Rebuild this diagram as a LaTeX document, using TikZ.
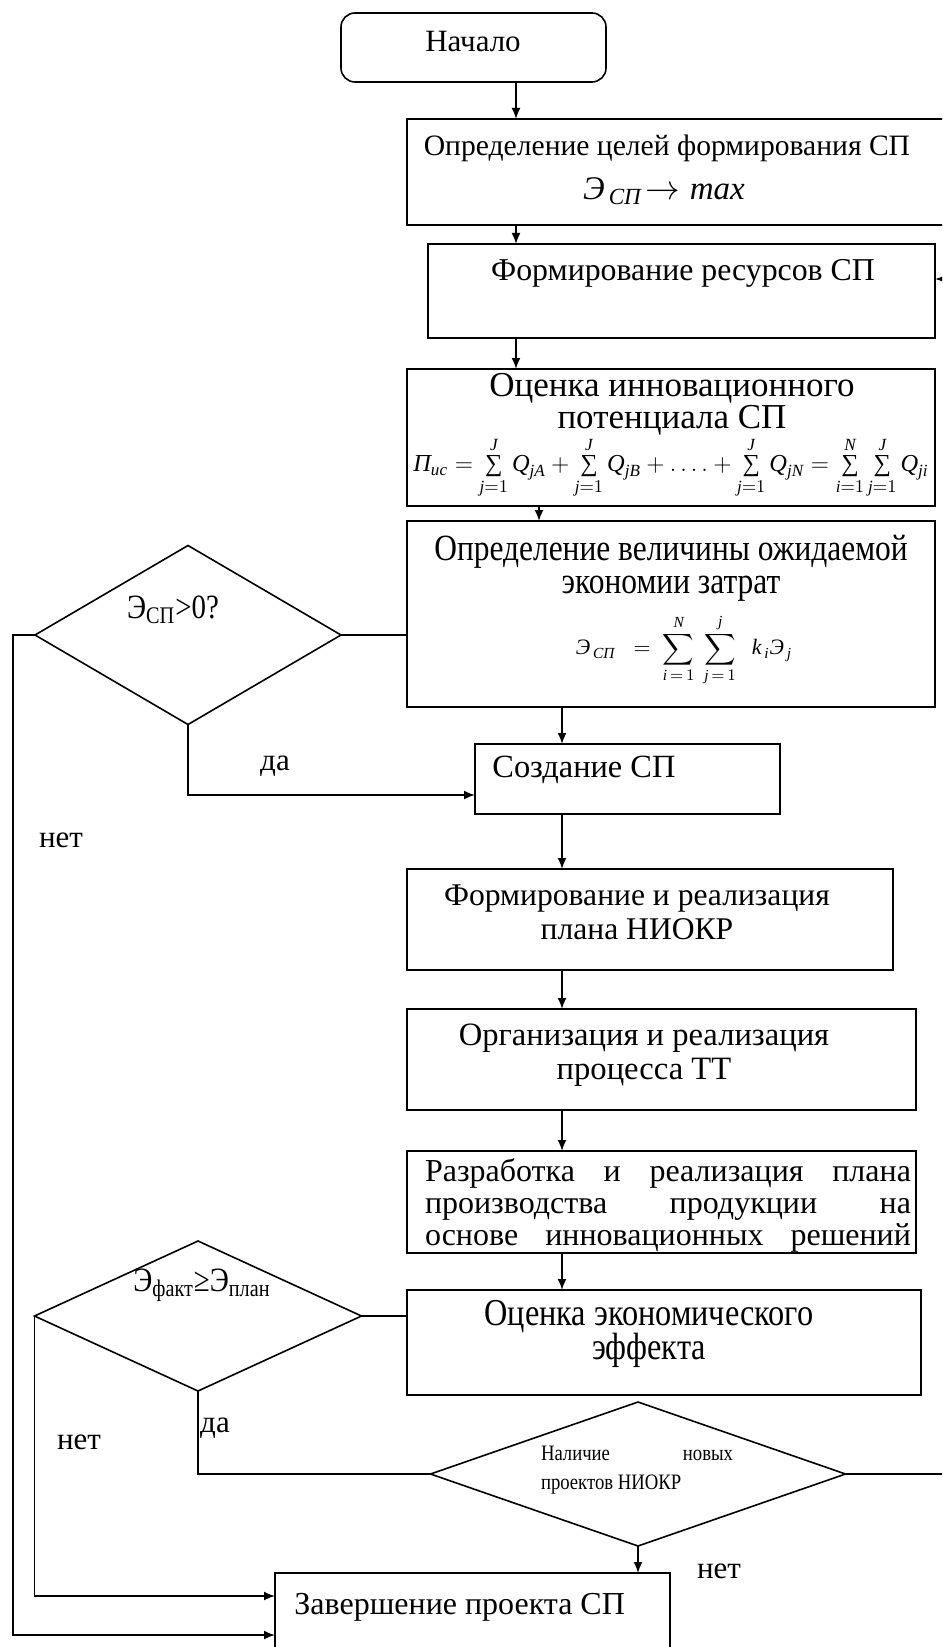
\documentclass[tikz,border=0pt]{standalone}
\usepackage{amsmath}
\usepackage{fontspec}
\setmainfont{Liberation Serif}
\newfontfamily\narrowfont[FakeStretch=0.85]{Liberation Serif}
\usetikzlibrary{shapes.geometric,fit,arrows.meta}
\newcommand\txi[1]{\text{\itshape #1}}
\newcommand\tsum{\mathop{\text{\upshape ∑}}\limits}
\begin{document}
\begin{tikzpicture}[x=0.5pt,y=-0.5pt,
  box/.style={draw,line width=0.8pt,inner sep=0pt,outer sep=0pt},
  startbox/.style={box,rounded corners=7pt},
  cond/.style={draw,diamond,line width=0.8pt,inner sep=0pt,outer sep=0pt},
  txt/.style={inner sep=0pt,align=center,font=\fontsize{15.5}{16}\selectfont},
  ntxt/.style={inner sep=0pt,align=center,font=\narrowfont\fontsize{18.5}{16.5}\selectfont},
  conn/.style={line width=0.9pt},
  arr/.style={conn,-{Latex[length=5.5pt,width=4.5pt]}}]
\clip (0,0) rectangle (942,1647);

% blocks
\node [startbox,fit={(341,13) (606,82)}] (start) {};
\node [box,fit={(407,119) (955,225)}] (goal) {};
\node [box,fit={(428,244) (935,338)}] (res) {};
\node [box,fit={(407,369) (935,506)}] (innov) {};
\node [box,fit={(407,521) (935,707)}] (econ) {};
\node [box,fit={(475,744) (780,814)}] (create) {};
\node [box,fit={(407,869) (893,970)}] (plan) {};
\node [box,fit={(407,1009) (916,1110)}] (tt) {};
\node [box,fit={(407,1151) (916,1253)}] (prod) {};
\node [box,fit={(407,1290) (921,1395)}] (effect) {};
\node [box,fit={(275,1573) (670,1665)}] (finish) {};
\node [cond,minimum width=153pt,minimum height=89.5pt] (q1) at (188,635) {};
\node [cond,minimum width=163.5pt,minimum height=75pt] (q2) at (198,1316) {};
\node [cond,minimum width=207.5pt,minimum height=72pt] (q3) at (638,1474) {};

% texts
\node [txt] (tstart) at (473,42) {Начало};
\node [txt,font=\fontsize{14.8}{16}\selectfont] (tgoal) at (667,148) {Определение целей формирования СП};
\node [txt,font=\fontsize{16.5}{18}\selectfont] (fgoal) at (664,191) {$\txi{Э}_{\,\txi{СП}}\!\rightarrow \txi{max}$};
\node [txt,font=\fontsize{15.9}{16}\selectfont] (tres) at (683,273) {Формирование ресурсов СП};
\node [txt,font=\fontsize{17.5}{16}\selectfont] (tinnov) at (672,404) {Оценка инновационного\\потенциала СП};
\node [inner sep=0pt,font=\fontsize{12.2}{14}\selectfont] (finnov) at (671,468)
  {$\txi{П}_{\txi{ис}}=\tsum_{\txi{j}=1}^{\txi{J}}\txi{Q}_{\txi{jA}}
  +\tsum_{\txi{j}=1}^{\txi{J}}\txi{Q}_{\txi{jB}}+\ldots.+
  \tsum_{\txi{j}=1}^{\txi{J}}\txi{Q}_{\txi{jN}}=
  \tsum_{\txi{i}=1}^{\txi{N}}\tsum_{\txi{j}=1}^{\txi{J}}\txi{Q}_{\txi{ji}}$};
\node [ntxt] (tecon) at (671,568) {Определение величины ожидаемой\\экономии затрат};
\node [inner sep=0pt,font=\fontsize{11}{14}\selectfont] (fecon) at (684,650)
  {$\displaystyle\txi{Э}_{\,\txi{СП}}\;\;=\;\sum_{\txi{i}\,=\,1}^{\txi{N}}\;\sum_{\txi{j}\,=\,1}^{\txi{j}}\;\;\txi{k}_{\,\txi{i}}\txi{Э}_{\,\txi{j}}$};
\node [txt,anchor=west,font=\fontsize{16.2}{17}\selectfont] (tcreate) at (492,770) {Создание СП};
\node [txt,font=\fontsize{15.8}{17}\selectfont] (tplan) at (637,912) {Формирование и реализация\\плана НИОКР};
\node [txt,font=\fontsize{16.3}{17}\selectfont] (ttt) at (644,1055) {Организация и реализация\\процесса ТТ};
\node [txt,align=left,font=\fontsize{16}{16}\selectfont] (tprod) at (668,1205)
  {\makebox[243pt][s]{Разработка и реализация плана}\\
   \makebox[243pt][s]{производства продукции на}\\
   \makebox[243pt][s]{основе инновационных решений}};
\node [ntxt,font=\narrowfont\fontsize{19}{17}\selectfont] (teffect) at (649,1334) {Оценка экономического\\эффекта};
\node [ntxt,font=\narrowfont\fontsize{17}{17}\selectfont] (tq1) at (173,610) {Э\textsubscript{СП}>0?};
\node [ntxt,font=\narrowfont\fontsize{17}{17}\selectfont] (tq2) at (202,1285) {Э\textsubscript{факт}≥Э\textsubscript{план}};
\node [inner sep=0pt,align=left,font=\narrowfont\fontsize{11}{14.5}\selectfont] (tq3) at (637,1470)
  {\makebox[96pt][s]{Наличие новых}\\проектов НИОКР};
\node [txt,anchor=west,font=\fontsize{16}{17}\selectfont] (tfinish) at (294,1607) {Завершение проекта СП};

% labels
\node [txt] (lyes1) at (275,766) {да};
\node [txt] (lno1) at (61,840) {нет};
\node [txt] (lyes2) at (215,1428) {да};
\node [txt] (lno2) at (79,1442) {нет};
\node [txt] (lno3) at (719,1571) {нет};

% routing points
\coordinate (sp1) at (516,0);
\coordinate (sp2) at (539,0);
\coordinate (sp3) at (562,0);
\coordinate (xL) at (13,0);
\coordinate (xR) at (955,0);
\coordinate (yRes) at (0,279);
\coordinate (yYes1) at (0,795);
\coordinate (yEnd1) at (0,1596);
\coordinate (yEnd2) at (0,1635);

% connectors
\draw [arr] (start.south -| sp1) -- (goal.north -| sp1);
\draw [arr] (goal.south -| sp1) -- (res.north -| sp1);
\draw [arr] (res.south -| sp1) -- (innov.north -| sp1);
\draw [arr] (innov.south -| sp2) -- (econ.north -| sp2);
\draw [arr] (econ.south -| sp3) -- (create.north -| sp3);
\draw [arr] (create.south -| sp3) -- (plan.north -| sp3);
\draw [arr] (plan.south -| sp3) -- (tt.north -| sp3);
\draw [arr] (tt.south -| sp3) -- (prod.north -| sp3);
\draw [arr] (prod.south -| sp3) -- (effect.north -| sp3);
\draw [conn] (q1.east) -- (q1.east -| econ.west);
\draw [arr] (q1.south) |- (create.west |- yYes1);
\draw [arr] (q1.west) -| (xL |- yEnd2) -- (finish.west |- yEnd2);
\draw [conn] (q2.east) -- (q2.east -| effect.west);
\draw [arr] (q2.west) -- (q2.west |- yEnd1) -- (finish.west |- yEnd1);
\draw [conn] (q2.south) |- (q3.west);
\draw [arr] (q3.east) -| (xR |- yRes) -- (res.east |- yRes);
\draw [arr] (q3.south) -- (q3.south |- finish.north);
\end{tikzpicture}
\end{document}
